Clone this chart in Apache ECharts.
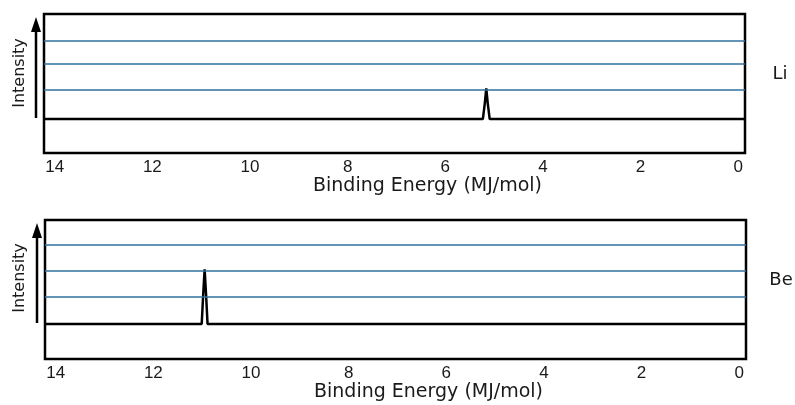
<!DOCTYPE html>
<html>
<head>
<meta charset="utf-8">
<script src="https://cdn.jsdelivr.net/npm/echarts@6/dist/echarts.min.js"></script>
<style>html,body{margin:0;padding:0;background:#fff}#c{width:795px;height:405px}</style>
</head>
<body>
<div id="c"></div>
<script>
// ---- data ----
const xTicks = [14, 12, 10, 8, 6, 4, 2, 0];
const xName = 'Binding Energy (MJ/mol)';
const yName = 'Intensity';
const elements = ['Li', 'Be'];
const liGridLevels = [1.1, 2.1, 3.0];
const beGridLevels = [1.03, 2.03, 3.02];
const liEnergy = [14.22, 5.23, 5.19, 5.16, 5.13, 5.09, -0.14];
const liIntensity = [0, 0, 0.6, 1.17, 0.6, 0, 0];
const beEnergy = [14.22, 11.01, 10.98, 10.95, 10.92, 10.89, -0.14];
const beIntensity = [0, 0, 1.1, 2.08, 1.1, 0, 0];

const FONT = 'DejaVu Sans';
const BLUE = '#2f6f9e';

function pairs(xs, ys) { return xs.map((x, i) => [x, ys[i]]); }

const grids = [
  { left: 44, top: 14, width: 701, height: 139 },
  { left: 45, top: 220, width: 701, height: 139 }
];
const yRanges = [[-1.29, 4.0], [-1.33, 3.95]];
const levels = [liGridLevels, beGridLevels];
const series = [pairs(liEnergy, liIntensity), pairs(beEnergy, beIntensity)];

const option = {
  backgroundColor: '#ffffff',
  animation: false,
  grid: grids.map(g => Object.assign({ show: true, borderColor: '#000', borderWidth: 2.5, backgroundColor: 'transparent' }, g)),
  xAxis: grids.map((g, i) => ({
    type: 'value', gridIndex: i, inverse: true, min: -0.14, max: 14.22,
    axisLine: { show: false }, axisTick: { show: false }, splitLine: { show: false },
    axisLabel: { customValues: xTicks, margin: 6, fontSize: 17, fontFamily: 'Liberation Sans', color: '#1a1a1a' },
    name: xName, nameLocation: 'middle', nameGap: 24,
    nameTextStyle: { fontSize: 19, fontFamily: FONT, color: '#1a1a1a', padding: [0, 0, 0, 66] }
  })),
  yAxis: grids.map((g, i) => ({
    type: 'value', gridIndex: i, min: yRanges[i][0], max: yRanges[i][1],
    show: false, splitLine: { show: false }
  })),
  series: series.map((d, i) => ({
    type: 'line', xAxisIndex: i, yAxisIndex: i, data: d, symbol: 'none',
    lineStyle: { color: '#000', width: 2.5 }, z: 3,
    markLine: {
      silent: true, symbol: 'none', label: { show: false },
      lineStyle: { color: BLUE, width: 1.5, type: 'solid' },
      data: levels[i].map(v => ({ yAxis: v }))
    }
  })),
  graphic: [
    // panel 1 arrow + label
    { type: 'line', shape: { x1: 36, y1: 118, x2: 36, y2: 30 }, style: { stroke: '#000', lineWidth: 2.5 } },
    { type: 'polygon', shape: { points: [[36, 17], [31, 32], [41, 32]] }, style: { fill: '#000' } },
    { type: 'text', x: 20, y: 73, rotation: Math.PI / 2, style: { text: yName, font: '16px ' + FONT, fill: '#1a1a1a', align: 'center', verticalAlign: 'middle' } },
    { type: 'text', x: 780, y: 74, style: { text: elements[0], font: '18px ' + FONT, fill: '#1a1a1a', align: 'center', verticalAlign: 'middle' } },
    // panel 2 arrow + label
    { type: 'line', shape: { x1: 37, y1: 323, x2: 37, y2: 236 }, style: { stroke: '#000', lineWidth: 2.5 } },
    { type: 'polygon', shape: { points: [[37, 223], [32, 238], [42, 238]] }, style: { fill: '#000' } },
    { type: 'text', x: 20, y: 278, rotation: Math.PI / 2, style: { text: yName, font: '16px ' + FONT, fill: '#1a1a1a', align: 'center', verticalAlign: 'middle' } },
    { type: 'text', x: 781, y: 280, style: { text: elements[1], font: '18px ' + FONT, fill: '#1a1a1a', align: 'center', verticalAlign: 'middle' } }
  ]
};

const chart = echarts.init(document.getElementById('c'), null, { renderer: 'canvas' });
chart.setOption(option);
</script>
</body>
</html>
